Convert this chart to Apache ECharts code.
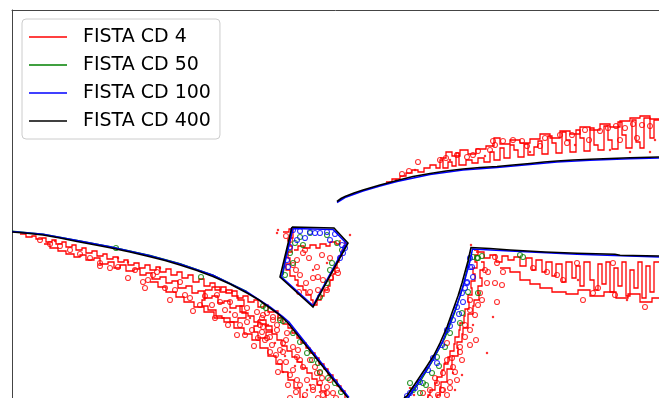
<!DOCTYPE html>
<html>
<head>
<meta charset="utf-8">
<script src="https://cdn.jsdelivr.net/npm/echarts@6/dist/echarts.min.js"></script>
<style>html,body{margin:0;padding:0;background:#fff}#c{width:659px;height:398px}</style>
</head>
<body>
<div id="c"></div>
<script>
// ---- legend names ----
const seriesNames = ['FISTA CD 4', 'FISTA CD 50', 'FISTA CD 100', 'FISTA CD 400'];

// ---- FISTA CD 400 (black) contours ----
const blackLeft = [[12,232],[27,233.3],[43,235],[60,238],[77,241.5],[93,244.5],[110,247.7],[130,252],[150,256.7],[165,260.6],[180,265],[197,270.5],[213,276.5],[230,284],[247,293],[259,300],[270,308],[277,313],[283,318],[288,323],[348,398]];
const blackPent = [[292,227],[334,228],[348,243],[313,307],[280,277],[292,227]];
const blackTop = [[337,201.5],[341,198.5],[345,196.5],[354,193],[363,190],[380,185],[397,180.5],[413,176.5],[430,173.5],[446,171],[463,169],[480,167.5],[497,166.5],[513,165],[530,163.5],[544,162],[557,161],[573,160],[590,159.3],[610,158.5],[630,157.8],[659,157]];
const blackV = [[404,398],[407,396],[417,381],[427,366],[434,355],[440,343],[447,327],[453,310],[458,296],[462,283],[465,272],[468,261],[471,247.5],[490,248.5],[510,250],[545,252],[577,253.3],[615,254.3],[620,255.3],[659,256]];

// ---- FISTA CD 100 (blue) contours ----
const blueLeft = [[12,231.5],[43,234.3],[77,240.6],[110,246.8],[150,255.7],[180,263.9],[213,275.3],[247,291.8],[270,306.8],[283,316.8],[289,322],[349,397.5]];
const bluePent = [[293,228.5],[333,229.5],[346.5,243.5],[313,305.5],[281.5,277],[293,228.5]];
const blueTop = [[337,202.5],[345,197.5],[363,191],[380,186],[397,181.5],[430,174.5],[463,170],[497,167.5],[530,164.5],[557,162],[590,160.3],[630,158.8],[659,158]];
const blueV = [[406,398],[409,396],[419,381],[429,366],[442,343],[455,310],[460,296],[464,283],[467,272],[470,261],[472.5,249],[510,251],[577,254.3],[659,257]];
const blueRings = [[293,230],[300,231],[310,232],[315,233],[320,233],[327,232],[335,234],[342,245],[345,248],[343,253],[340,258],[290,247],[287,260],[288,267],[470,258],[470,267],[467,283],[472,267],[473,277],[467,282],[465,288],[462,293],[463,302],[457,307],[453,320],[447,330],[437,363],[428,370],[420,382],[410,393],[407,396],[297,240],[305,238],[330,240],[459,314],[450,326],[442,345],[433,358],[415,388]];

// ---- FISTA CD 50 (green) contours ----
const greenLeft = [[12,231],[43,234],[77,240.3],[110,246.5],[150,255.3],[180,263.5],[213,275],[247,291.5]];
const greenPent = [[291,231],[286,256],[283,275]];
const greenV = [[408,398],[420,382],[432,362],[445,338],[455,312],[462,290],[467,270],[470,252]];
const greenRings = [[201,277],[266,308],[283,321],[263,306],[280,320],[293,333],[307,353],[318,363],[320,372],[335,383],[295,243],[290,253],[293,263],[303,245],[300,237],[310,233],[327,235],[337,243],[342,250],[332,263],[330,270],[327,283],[320,297],[285,275],[473,257],[478,258],[520,255],[523,257],[482,256],[477,258],[468,292],[478,293],[462,313],[460,323],[450,333],[445,347],[437,357],[432,373],[423,383],[413,390],[420,393],[410,383],[116,248],[300,342],[312,360],[328,378],[341,392],[426,385],[439,366]];

// ---- FISTA CD 4 (red) contours ----
const redLeftUpper = [[20,234],[26,234],[26,237],[32,237],[32,236],[36,236],[36,239],[42,239],[42,238],[46,238],[46,242],[52,242],[52,240],[56,240],[56,244],[62,244],[62,242],[66,242],[66,247],[72,247],[72,245],[76,245],[76,250],[82,250],[82,248],[86,248],[86,253],[92,253],[92,251],[97,251],[97,256],[103,256],[103,254],[107,254],[107,259],[113,259],[113,257],[118,257],[118,262],[124,262],[124,260],[128,260],[128,265],[134,265],[134,263],[139,263],[139,268],[145,268],[145,265],[150,265],[150,270],[156,270],[156,267],[160,267],[160,272],[166,272],[166,269],[171,269],[171,275],[177,275],[177,272],[182,272],[182,278],[188,278],[188,275],[193,275],[193,282],[199,282],[199,279],[204,279],[204,286],[210,286],[210,283],[215,283],[215,290],[221,290],[221,287],[226,287],[226,293],[232,293],[232,291],[237,291],[237,298],[243,298],[243,296],[248,296],[248,302],[254,302],[254,300],[258,300],[258,307],[264,307],[264,305],[268,305],[268,312],[274,312],[274,311],[278,311],[278,318],[283,318],[283,324],[288,324],[288,328],[292,328],[292,333],[297,333],[297,338],[301,338],[301,343],[306,343],[306,348],[310,348],[310,353],[315,353],[315,358],[319,358],[319,364],[324,364],[324,369],[328,369],[328,375],[333,375],[333,380],[337,380],[337,386],[341,386],[341,391],[345,391],[345,398]];
const redLeftLower = [[44,244],[50,244],[50,248],[58,248],[58,251],[66,251],[66,254],[74,254],[74,257],[80,257],[80,255],[86,255],[86,260],[94,260],[94,258],[100,258],[100,264],[108,264],[108,262],[114,262],[114,268],[120,268],[120,265],[126,265],[126,271],[134,271],[134,269],[140,269],[140,275],[146,275],[146,273],[152,273],[152,279],[160,279],[160,277],[166,277],[166,283],[172,283],[172,281],[178,281],[178,288],[186,288],[186,286],[192,286],[192,293],[198,293],[198,291],[204,291],[204,298],[212,298],[212,296],[218,296],[218,303],[224,303],[224,301],[230,301],[230,308],[236,308],[236,306],[242,306],[242,313],[248,313],[248,316],[254,316],[254,322],[260,322],[260,324],[266,324],[266,330],[272,330],[272,334],[277,334],[277,340],[282,340],[282,346],[287,346],[287,351],[292,351],[292,357],[297,357],[297,362],[302,362],[302,368],[307,368],[307,373],[312,373],[312,379],[317,379],[317,385],[321,385],[321,391],[326,391],[326,398]];
const redLeftBand3 = [[150,282],[158,282],[158,287],[166,287],[166,292],[176,292],[176,297],[184,297],[184,302],[194,302],[194,307],[204,307],[204,312],[214,312],[214,318],[224,318],[224,322],[234,322],[234,328],[244,328],[244,334],[252,334],[252,340],[260,340],[260,348],[268,348],[268,356],[276,356],[276,364],[282,364],[282,372],[288,372],[288,380],[294,380],[294,388],[300,388],[300,398]];
const redLeftBlob = [[205,290],[212,290],[212,287],[220,287],[220,292],[226,292],[226,290],[232,290],[232,296],[238,296],[238,300],[244,300],[244,306],[240,306],[240,312],[246,312],[246,318],[238,318],[238,322],[230,322],[230,318],[222,318],[222,316],[216,316],[216,310],[208,310],[208,306],[202,306],[202,300],[205,300],[205,290]];
const redLeftBlob2 = [[258,320],[266,320],[266,326],[272,326],[272,332],[266,332],[266,338],[258,338],[258,332],[254,332],[254,326],[258,326],[258,320]];
const redPentOutline = [[283,232],[289,232],[289,229],[293,229],[293,238],[290,238],[290,246],[292,246],[292,252],[288,252],[288,258],[290,258],[290,264],[286,264],[286,270],[290,270],[290,276],[295,276],[295,280],[298,280],[298,286],[303,286],[303,290],[306,290],[306,295],[311,295],[311,300],[313,300],[313,305],[317,305],[317,300],[321,300],[321,296],[324,296],[324,290],[328,290],[328,286],[330,286],[330,280],[333,280],[333,274],[335,274],[335,268],[337,268],[337,262],[339,262],[339,256],[342,256],[342,250],[344,250],[344,245]];
const redPentInner = [[294,250],[298,250],[298,246],[304,246],[304,248],[310,248],[310,245],[316,245],[316,248],[320,248],[320,244],[326,244],[326,246],[330,246],[330,242],[336,242],[336,244],[340,244],[340,240]];
const redTopStep = [[386,182],[392,182],[392,179],[400,179],[400,176],[406,176],[406,173],[412,173],[412,170],[418,170],[418,172],[424,172],[424,168],[430,168],[430,165],[436,165],[436,168],[440,168],[440,160],[443,160],[443,168],[448,168],[448,162],[452,162],[452,166],[456,166],[456,153],[459,153],[459,165],[466,165],[466,160],[472,160],[472,163],[478,163],[478,158],[484,158],[484,162],[490,162],[490,152],[494,152],[494,160],[500,160],[500,148],[504,148],[504,158],[510,158],[510,145],[514,145],[514,150],[518,150],[518,157],[524,157],[524,144],[528,144],[528,155],[534,155],[534,147],[538,147],[538,141],[542,141],[542,154],[548,154],[548,136],[552,136],[552,143],[556,143],[556,153],[562,153],[562,132],[566,132],[566,140],[570,140],[570,152],[576,152],[576,130],[580,130],[580,138],[584,138],[584,151],[590,151],[590,128],[594,128],[594,145],[598,145],[598,150],[604,150],[604,126],[608,126],[608,140],[612,140],[612,149],[618,149],[618,122],[622,122],[622,135],[626,135],[626,148],[632,148],[632,120],[636,120],[636,142],[640,142],[640,148],[644,148],[644,118],[650,118],[650,138],[654,138],[654,120],[659,120]];
const redTopUpper = [[440,158],[446,158],[446,152],[452,152],[452,156],[460,156],[460,150],[468,150],[468,154],[476,154],[476,149],[486,149],[486,146],[494,146],[494,138],[500,138],[500,144],[510,144],[510,140],[520,140],[520,143],[530,143],[530,139],[540,139],[540,134],[550,134],[550,138],[560,138],[560,131],[570,131],[570,134],[580,134],[580,127],[590,127],[590,130],[600,130],[600,124],[610,124],[610,127],[620,127],[620,121],[630,121],[630,118],[640,118],[640,116],[650,116],[650,119],[659,119]];
const redVEdge = [[474,250],[478,250],[478,255],[475,255],[475,262],[477,262],[477,268],[473,268],[473,274],[475,274],[475,281],[471,281],[471,288],[472,288],[472,295],[468,295],[468,302],[469,302],[469,309],[465,309],[465,316],[464,316],[464,323],[460,323],[460,330],[459,330],[459,337],[455,337],[455,344],[454,344],[454,351],[450,351],[450,357],[448,357],[448,364],[444,364],[444,370],[442,370],[442,377],[437,377],[437,383],[435,383],[435,390],[430,390],[430,395],[428,395],[428,398]];
const redVInner = [[481,262],[484,262],[484,270],[480,270],[480,278],[482,278],[482,286],[478,286],[478,293],[479,293],[479,300],[474,300],[474,306],[473,306],[473,314],[468,314],[468,320],[468,328],[463,328],[463,334],[462,334],[462,342],[457,342],[457,348],[458,348],[458,356],[452,356],[452,361],[452,369],[447,369],[447,374],[447,382],[441,382],[441,387],[440,387],[440,395],[437,395],[437,398]];
const redVTopStep = [[476,252],[484,252],[484,258],[490,258],[490,255],[496,255],[496,262],[502,262],[502,256],[508,256],[508,260],[514,260],[514,257],[520,257],[520,266],[526,266],[526,258],[532,258],[532,270],[536,270],[536,260],[542,260],[542,272],[546,272],[546,262],[552,262],[552,276],[556,276],[556,264],[562,264],[562,282],[566,282],[566,262],[572,262],[572,278],[576,278],[576,266],[580,266],[580,286],[584,286],[584,262],[590,262],[590,280],[594,280],[594,290],[598,290],[598,264],[602,264],[602,284],[606,284],[606,262],[610,262],[610,292],[614,292],[614,268],[618,268],[618,286],[622,286],[622,262],[626,262],[626,296],[630,296],[630,270],[634,270],[634,288],[638,288],[638,262],[642,262],[642,298],[646,298],[646,266],[650,266],[650,292],[654,292],[654,262],[659,262]];
const redVDeepStep = [[500,268],[510,268],[510,272],[520,272],[520,280],[530,280],[530,284],[540,284],[540,288],[552,288],[552,292],[566,292],[566,294],[578,294],[578,290],[590,290],[590,296],[604,296],[604,292],[616,292],[616,298],[628,298],[628,294],[640,294],[640,302],[652,302],[652,298],[659,298]];
const redRings = [
  [100,266],[110,268],[118,267],[128,278],[148,280],[153,275],[157,272],[143,282],[100,263],
  [193,311],[190,298],[217,295],[220,302],[230,302],[247,308],[257,312],[263,315],[273,317],[280,318],[247,322],[260,325],[277,325],
  [237,335],[245,335],[267,338],[283,352],[300,360],[297,380],[315,367],[313,387],[320,373],[327,393],
  [267,313],[273,320],[263,327],[277,330],[270,337],[287,333],[283,343],[293,347],[280,350],[297,357],[303,367],[310,360],[293,370],[317,373],[307,380],[320,383],[327,387],[313,390],[333,393],[323,395],[265,340],
  [205,296],[212,305],[225,310],[235,315],[252,330],[258,338],[272,345],[276,355],[286,362],[290,375],[300,385],[305,395],[318,398],[286,340],[298,350],[262,318],[240,325],[228,325],[215,318],[200,305],[185,295],[175,290],[165,288],[170,300],[180,282],[135,270],[145,288],[90,258],[80,254],[70,250],[60,246],[50,244],[40,240],[336,398],[330,380],[322,378],[296,392],[288,385],[280,362],[262,332],[254,346],[270,352],[278,372],[290,398],
  [305,250],[317,267],[318,277],[313,278],[323,280],[297,260],[300,275],[337,270],[338,273],[303,253],[293,265],[310,292],[327,290],
  [309,258],[322,255],[330,258],[296,270],[306,283],[318,290],[331,278],[299,292],[290,240],[286,236],
  [447,343],[452,358],[443,373],[457,380],[437,383],[430,390],[442,390],[450,388],[423,393],
  [460,352],[455,372],[438,395],[447,395],[430,398],[465,325],[475,315],[478,305],[470,310],[485,270],[482,300],[476,340],[462,360],[470,300],
  [495,257],[497,263],[488,272],[503,272],[487,283],[495,283],[502,285],[497,302],[480,293],[470,330],[465,337],[460,347],[470,345],[447,360],[453,367],[450,382],[443,390],[435,378],
  [583,300],[598,288],[593,293],[615,295],[645,307],[563,280],[533,268],[547,272],[557,275],[577,263],[613,263],
  [418,162],[440,160],[446,158],[473,155],[478,151],[490,150],[495,145],[493,141],[503,141],[513,140],[522,141],[545,138],[560,135],[572,135],[585,130],[600,131],[608,128],[616,126],[625,128],[633,124],[642,125],[650,126],[402,174],[409,171],[457,155],[467,157],[527,146],[540,146],[567,143],[589,140],[620,140],[637,138]
];
const redDots = [[283,372],[307,390],[303,397],[275,343],[313,270],[327,263],[297,285],[350,235],[277,233],[278,230],[345,243],[453,373],[445,363],[493,317],[487,353],[627,300],[578,280],[396,180],[415,170],[450,160],[485,156],[530,152],[575,145],[610,150],[630,152],[650,152],[655,140],[118,258],[128,262],[471,245],[410,388],[414,395],[55,241],[160,268],[230,312],[250,318],[268,325],[285,356],[295,366],[310,385],[320,392],[455,390],[462,375],[473,325]];

const blackPaths = [blackLeft, blackPent, blackTop, blackV];
const bluePaths = [blueLeft, bluePent, blueTop, blueV];
const greenPaths = [greenLeft, greenPent, greenV];
const redPaths = [redLeftUpper, redLeftLower, redLeftBand3, redLeftBlob, redLeftBlob2, redPentOutline, redPentInner, redTopStep, redTopUpper, redVEdge, redVInner, redVTopStep, redVDeepStep];

const colors = ['#ff0000', '#008000', '#0000ff', '#000000'];

function linesSeries(name, paths, color, width, z) {
  return {
    type: 'lines', name: name, coordinateSystem: 'cartesian2d', polyline: true, silent: true, z: z,
    lineStyle: { color: color, width: width, opacity: 1 },
    data: paths.map(p => ({ coords: p }))
  };
}
function ringSeries(name, pts, color, size, z) {
  return {
    type: 'scatter', name: name, symbol: 'circle', symbolSize: size, silent: true, z: z,
    itemStyle: { color: 'rgba(0,0,0,0)', borderColor: color, borderWidth: 1.1 },
    data: pts
  };
}
function dotSeries(name, pts, color, size, z) {
  return {
    type: 'scatter', name: name, symbol: 'circle', symbolSize: size, silent: true, z: z,
    itemStyle: { color: color }, data: pts
  };
}

const frameAxis = {
  show: true,
  axisLine: { show: true, onZero: false, lineStyle: { color: '#444', width: 1 } },
  axisTick: { show: false }, axisLabel: { show: false }, splitLine: { show: false }
};

const chart = echarts.init(document.getElementById('c'), null, { renderer: 'canvas' });
chart.setOption({
  animation: false,
  backgroundColor: '#ffffff',
  grid: { left: 12, top: 10, right: 0, bottom: 0, show: false, containLabel: false },
  xAxis: Object.assign({ type: 'value', min: 12, max: 659, position: 'top' }, frameAxis),
  yAxis: Object.assign({ type: 'value', min: 10, max: 398, inverse: true, position: 'left' }, frameAxis),
  legend: {
    orient: 'vertical', left: 22, top: 19, padding: [8, 9, 8, 7],
    icon: 'rect', itemWidth: 38, itemHeight: 1.5, itemGap: 8,
    backgroundColor: '#ffffff', borderColor: '#cccccc', borderWidth: 1, borderRadius: 4,
    textStyle: { fontFamily: 'DejaVu Sans', fontSize: 19, color: '#000', lineHeight: 20, padding: [0, 0, 0, 11] },
    selectedMode: false,
    data: seriesNames.map((n, i) => ({ name: n, icon: 'rect', itemStyle: { color: colors[i], borderWidth: 0 }, lineStyle: { width: 0 } }))
  },
  series: [
    linesSeries(seriesNames[0], redPaths, colors[0], 1.3, 1),
    ringSeries(seriesNames[0], redRings, colors[0], 5, 1),
    dotSeries(seriesNames[0], redDots, colors[0], 2.5, 1),
    linesSeries(seriesNames[1], greenPaths, colors[1], 1.2, 2),
    ringSeries(seriesNames[1], greenRings, colors[1], 5, 2),
    linesSeries(seriesNames[2], bluePaths, colors[2], 1.5, 3),
    ringSeries(seriesNames[2], blueRings, colors[2], 5, 3),
    linesSeries(seriesNames[3], blackPaths, colors[3], 1.6, 4)
  ]
});
</script>
</body>
</html>
